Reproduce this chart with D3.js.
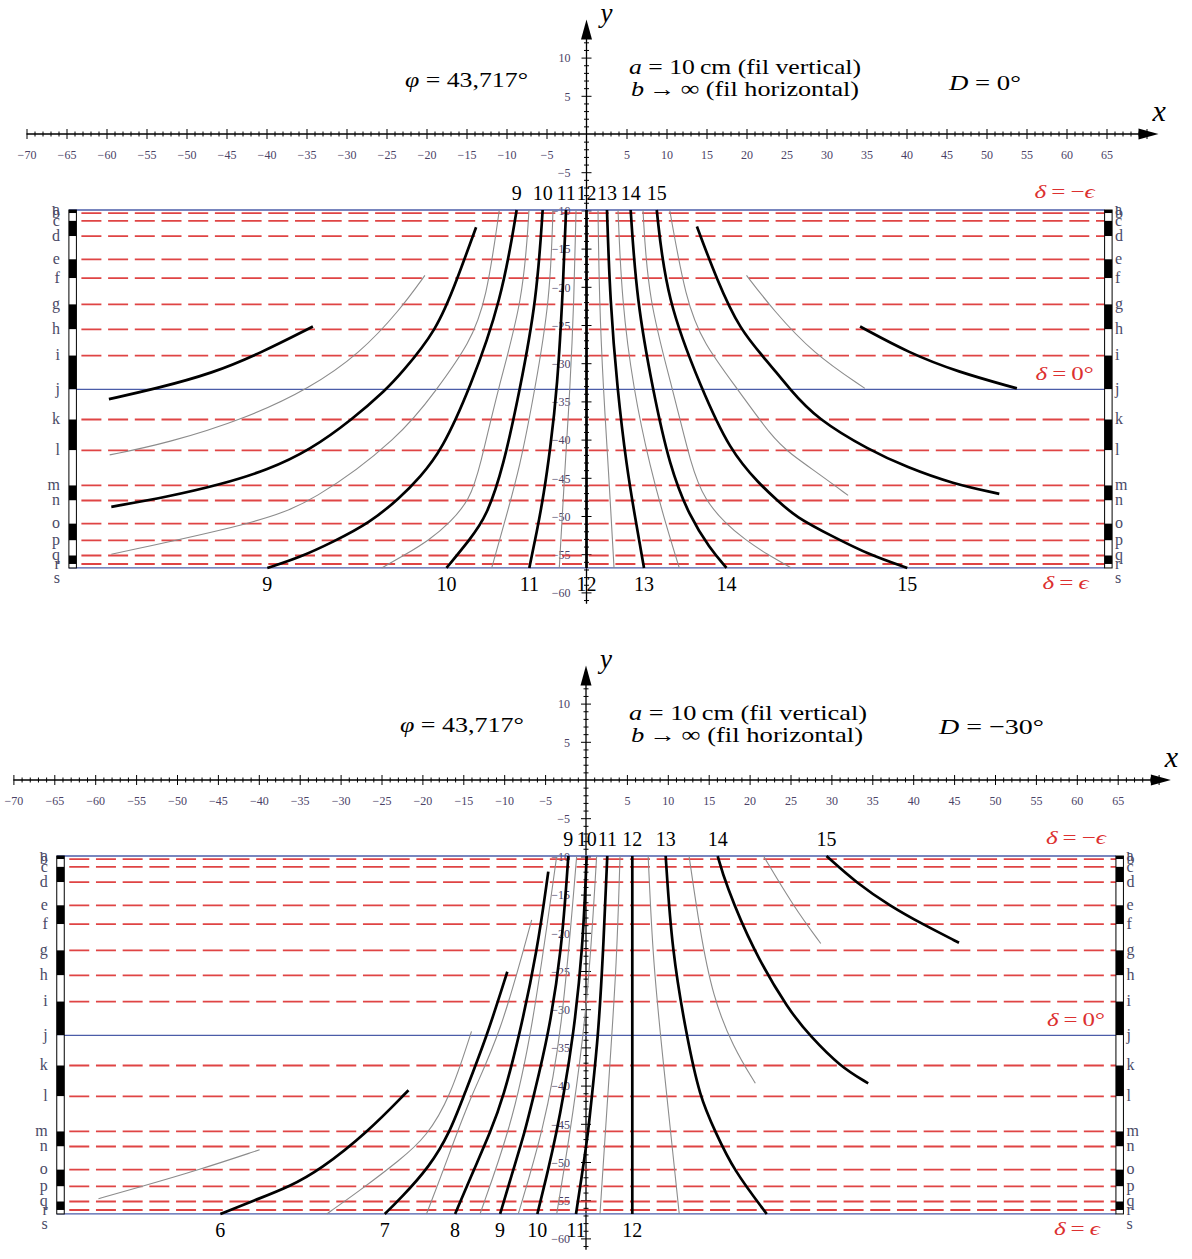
<!DOCTYPE html>
<html>
<head>
<meta charset="utf-8">
<title>cadran bifilaire</title>
<script src="https://cdn.jsdelivr.net/npm/d3@7"></script>
<style>
body { margin: 0; background: #fff; }
svg text { font-family: "Liberation Serif", "DejaVu Serif", serif; }
</style>
</head>
<body>
<svg id="chart" width="1192" height="1259"></svg>
<script>
// declination lines a..s (y in cm), same for both dials
var letters = ["a","b","c","d","e","f","g","h","i","j","k","l","m","n","o","p","q","r","s"];
var declY = [-9.95,-10.36,-11.37,-13.37,-16.4,-18.87,-22.3,-25.57,-29.0,-33.42,-37.37,-41.4,-46.0,-47.97,-51.0,-53.2,-55.17,-56.28,-56.8];
var blueLines = ["a","j","s"];
var boxX = [-64.7, 65.7];

// axis ticks
var xTicks = d3.range(-70, 71).filter(function(d) { return d !== 0; });
var yTicks = d3.range(13, -62, -1).filter(function(d) { return d !== 0; });

// D = 0 : hour lines (x, y in cm)
var fullD0 = [
  {h: 7,  pts: [[-34.2,-25.2],[-40.8,-28.7],[-46.7,-31.3],[-53.7,-33.3],[-59.7,-34.7]]},
  {h: 8,  pts: [[-13.8,-12.2],[-16.2,-19.1],[-18.7,-25.7],[-23.3,-31.5],[-25.0,-33.4],[-29.2,-37.3],[-34.6,-41.4],[-39.9,-44.0],[-45.8,-45.9],[-52.4,-47.5],[-59.4,-48.8]]},
  {h: 9,  pts: [[-8.73,-9.95],[-10.6,-21.7],[-14.6,-33.4],[-18.1,-41.4],[-20.8,-44.9],[-23.3,-47.6],[-27.1,-50.9],[-31.7,-53.4],[-35.8,-55.4],[-39.9,-56.8]]},
  {h: 10, pts: [[-5.48,-9.95],[-6.23,-21.7],[-8.31,-33.4],[-10.4,-43.6],[-12.5,-50.1],[-14.6,-53.1],[-17.5,-56.8]]},
  {h: 11, pts: [[-2.56,-9.95],[-2.9,-19.5],[-3.65,-33.4],[-4.56,-41.4],[-5.31,-47.0],[-6.23,-52.2],[-7.15,-56.8]]},
  {h: 12, pts: [[0,-9.95],[0,-56.8]]},
  {h: 13, pts: [[2.56,-9.95],[2.94,-21.7],[3.85,-33.4],[5.02,-43.6],[6.06,-50.1],[7.19,-56.8]]},
  {h: 14, pts: [[5.52,-9.95],[6.27,-21.7],[8.27,-33.4],[10.4,-43.6],[12.9,-50.1],[15.4,-54.2],[17.5,-56.8]]},
  {h: 15, pts: [[8.78,-9.95],[10.0,-21.7],[14.4,-33.4],[17.9,-41.4],[21.7,-45.9],[23.8,-47.9],[26.1,-50.1],[30.8,-52.7],[35.4,-55.1],[40.1,-56.8]]},
  {h: 16, pts: [[13.8,-12.1],[16.3,-19.1],[19.2,-25.7],[22.5,-29.6],[25.4,-33.4],[28.8,-37.3],[35.4,-41.4],[40.0,-43.6],[45.8,-45.8],[51.6,-47.1]]},
  {h: 17, pts: [[34.2,-25.2],[40.4,-28.7],[46.3,-31.1],[53.8,-33.3]]}
];
var halfD0 = [
  [[-20.2,-18.5],[-23.3,-23.0],[-28.3,-28.7],[-34.6,-33.3],[-42.5,-37.2],[-52.5,-40.5],[-59.6,-42.0]],
  [[-10.9,-9.95],[-12.5,-21.7],[-14.6,-27.4],[-18.7,-33.4],[-23.3,-39.7],[-34.2,-48.2],[-41.2,-50.9],[-59.4,-55.0]],
  [[-7.19,-9.95],[-7.9,-21.7],[-11.1,-33.4],[-13.3,-43.6],[-14.6,-47.9],[-17.1,-50.9],[-19.6,-53.1],[-22.7,-55.1],[-25.6,-56.8]],
  [[-4.19,-9.95],[-4.56,-21.7],[-6.44,-33.4],[-8.31,-43.6],[-10.4,-51.4],[-11.85,-56.8]],
  [[-1.31,-9.95],[-1.56,-21.7],[-2.06,-33.4],[-2.69,-43.6],[-3.4,-56.8]],
  [[1.44,-9.95],[1.6,-21.7],[2.1,-33.4],[2.73,-43.6],[3.44,-56.8]],
  [[3.94,-9.95],[4.4,-21.7],[5.85,-33.4],[7.94,-43.6],[10.0,-51.4],[11.6,-56.8]],
  [[7.06,-9.95],[7.7,-21.7],[10.8,-33.4],[13.1,-43.6],[14.8,-47.9],[17.3,-50.9],[19.8,-53.1],[22.7,-55.1],[25.6,-56.8]],
  [[10.4,-9.95],[12.4,-21.7],[14.6,-27.4],[18.9,-33.4],[23.2,-39.7],[25.4,-41.8],[29.2,-44.6],[32.7,-47.3]],
  [[20.0,-18.5],[23.3,-23.0],[28.3,-28.7],[34.8,-33.3]]
];
var topHoursD0 = [9, 10, 11, 12, 13, 14, 15];
var bottomHoursD0 = [9, 10, 11, 12, 13, 14, 15];

// D = -30 : hour lines
var fullD30 = [
  {h: 6,  pts: [[-21.7,-40.6],[-26.8,-46.2],[-32.5,-51.0],[-36.2,-53.2],[-40.5,-55.0],[-44.7,-56.8]]},
  {h: 7,  pts: [[-9.62,-25.1],[-12.1,-33.5],[-15.0,-41.5],[-16.6,-46.0],[-19.1,-50.6],[-22.7,-54.8],[-24.6,-56.8]]},
  {h: 8,  pts: [[-4.61,-12.0],[-5.95,-22.3],[-8.15,-33.5],[-10.1,-41.5],[-11.65,-46.0],[-13.7,-51.0],[-16.0,-56.8]]},
  {h: 9,  pts: [[-2.16,-9.95],[-2.97,-22.3],[-4.61,-33.5],[-6.44,-41.5],[-7.46,-46.0],[-8.89,-51.0],[-10.5,-56.8]]},
  {h: 10, pts: [[0.08,-9.95],[-0.4,-22.3],[-1.55,-33.5],[-2.78,-41.5],[-3.58,-46.0],[-4.61,-51.0],[-5.95,-56.8]]},
  {h: 11, pts: [[2.6,-9.95],[2.11,-22.3],[1.5,-33.5],[0.7,-41.5],[0.28,-46.0],[-0.4,-51.0],[-1.22,-56.8]]},
  {h: 12, pts: [[5.66,-9.95],[5.66,-56.8]]},
  {h: 13, pts: [[9.74,-9.95],[10.5,-22.3],[12.3,-33.5],[13.9,-41.5],[15.8,-46.0],[18.0,-51.0],[22.1,-56.8]]},
  {h: 14, pts: [[16.1,-9.95],[17.0,-13.4],[20.4,-22.3],[24.9,-30.3],[27.4,-33.5],[31.05,-37.5],[34.5,-39.7]]},
  {h: 15, pts: [[29.4,-9.95],[33.1,-13.5],[37.2,-16.5],[41.2,-18.9],[45.6,-21.3]]}
];
var halfD30 = [
  [[-39.9,-48.4],[-47.2,-51.0],[-55.3,-53.5],[-59.6,-54.8]],
  [[-14.0,-32.9],[-16.6,-41.5],[-19.5,-46.7],[-22.7,-49.7],[-27.6,-53.7],[-31.7,-56.8]],
  [[-6.64,-18.3],[-10.5,-33.5],[-14.2,-41.5],[-17.4,-51.0],[-19.5,-56.8]],
  [[-3.58,-9.95],[-6.64,-33.5],[-9.29,-45.8],[-12.96,-56.8]],
  [[-1.14,-9.95],[-2.97,-33.5],[-5.22,-45.8],[-8.28,-56.8]],
  [[1.3,-9.95],[0.28,-28.4],[-1.55,-43.6],[-3.58,-56.8]],
  [[4.16,-9.95],[3.75,-24.0],[2.93,-37.0],[1.71,-56.8]],
  [[7.6,-9.95],[8.2,-24.0],[9.45,-37.0],[11.4,-56.8]],
  [[12.6,-9.95],[13.9,-19.6],[15.5,-28.4],[18.0,-35.0],[20.7,-39.7]],
  [[21.7,-9.95],[25.4,-16.6],[28.7,-21.4]]
];
var topHoursD30 = [9, 10, 11, 12, 13, 14, 15];
var bottomHoursD30 = [6, 7, 8, 9, 10, 11, 12];

var svg = d3.select("#chart");
var red = "#dc3030", blue = "#4b5ca8", labCol = "#4a4266";

function fmt(d) { return d < 0 ? "\u2212" + Math.abs(d) : String(d); }

function mathText(g, x, yb, parts, size, width, color) {
  var t = g.append("text").attr("x", x).attr("y", yb)
      .attr("font-size", size).attr("fill", color || "#000");
  parts.forEach(function(p) {
    t.append("tspan").attr("font-style", p[1] ? "italic" : "normal").text(p[0]);
  });
  if (width) t.attr("textLength", width).attr("lengthAdjust", "spacingAndGlyphs");
  return t;
}

function drawPanel(p) {
  var x = d3.scaleLinear().domain([0, 10]).range([p.x0, p.x0 + 10 * p.kx]);
  var y = d3.scaleLinear().domain([0, -10]).range([p.y0, p.y0 + 10 * p.ky]);
  var g = svg.append("g");
  var sw = 7.5;
  var xL = x(boxX[0]), xR = x(boxX[1]);
  var yTop = y(declY[0]), yBot = y(declY[declY.length - 1]), yJ = y(declY[9]);

  // axes (drawn first, the dial goes over them)
  var xAxis = g.append("g").attr("transform", "translate(0," + p.y0 + ")")
      .call(d3.axisBottom(x).tickValues(xTicks).tickSizeOuter(0));
  xAxis.select(".domain").remove();
  xAxis.selectAll(".tick line")
      .attr("y1", function(d) { return d % 5 === 0 ? -5 : -2.5; })
      .attr("y2", function(d) { return d % 5 === 0 ? 5 : 2.5; })
      .attr("stroke", "#000").attr("stroke-width", 1);
  xAxis.selectAll(".tick text")
      .text(function(d) { return (d % 5 === 0 && d < 70) ? fmt(d) : ""; })
      .attr("y", 25).attr("dy", 0)
      .attr("font-family", "Liberation Serif, serif").attr("font-size", 12).attr("fill", labCol);
  g.append("line").attr("x1", x(-70)).attr("x2", x(71.5) - 10)
      .attr("y1", p.y0).attr("y2", p.y0).attr("stroke", "#000").attr("stroke-width", 1.3);
  var tx = x(71.5);
  g.append("path").attr("d", "M" + tx + "," + p.y0 + "L" + (tx - 20) + "," + (p.y0 - 5.5) + "L" + (tx - 20) + "," + (p.y0 + 5.5) + "Z")
      .attr("fill", "#000");
  mathText(g, tx - 6, p.y0 - 13, [["x", 1]], 30);

  var yAxis = g.append("g").attr("transform", "translate(" + p.x0 + ",0)")
      .call(d3.axisLeft(y).tickValues(yTicks).tickSizeOuter(0));
  yAxis.select(".domain").remove();
  yAxis.selectAll(".tick line")
      .attr("x1", function(d) { return d % 5 === 0 ? -5 : -2.5; })
      .attr("x2", function(d) { return d % 5 === 0 ? 5 : 2.5; })
      .attr("stroke", "#000").attr("stroke-width", 1);
  yAxis.selectAll(".tick text")
      .text(function(d) { return (d % 5 === 0 && d >= -60) ? fmt(d) : ""; })
      .attr("x", -16).attr("dy", "0.35em")
      .attr("font-family", "Liberation Serif, serif").attr("font-size", 12).attr("fill", labCol);
  var ty = y(15);
  g.append("line").attr("x1", p.x0).attr("x2", p.x0)
      .attr("y1", y(-61.5)).attr("y2", ty + 10).attr("stroke", "#000").attr("stroke-width", 1.3);
  g.append("path").attr("d", "M" + p.x0 + "," + ty + "L" + (p.x0 - 5.5) + "," + (ty + 20) + "L" + (p.x0 + 5.5) + "," + (ty + 20) + "Z")
      .attr("fill", "#000");
  mathText(g, p.x0 + 14, ty + 3, [["y", 1]], 27);

  // parallels of declination
  var decl = letters.map(function(l, i) { return {l: l, v: declY[i]}; });
  g.selectAll("line.red").data(decl.filter(function(d) { return blueLines.indexOf(d.l) < 0; }))
    .join("line")
      .attr("x1", xL + sw).attr("x2", xR - sw)
      .attr("y1", function(d) { return y(d.v); }).attr("y2", function(d) { return y(d.v); })
      .attr("stroke", red).attr("stroke-opacity", 0.9).attr("stroke-width", 1.8)
      .attr("stroke-dasharray", "20,6.7").attr("stroke-dashoffset", 21.7);
  g.selectAll("line.blue").data(decl.filter(function(d) { return blueLines.indexOf(d.l) >= 0; }))
    .join("line")
      .attr("x1", xL).attr("x2", xR - sw)
      .attr("y1", function(d) { return y(d.v); }).attr("y2", function(d) { return y(d.v); })
      .attr("stroke", blue).attr("stroke-width", 1.3);

  // hour lines
  var line = d3.line().x(function(d) { return x(d[0]); }).y(function(d) { return y(d[1]); })
      .curve(d3.curveBasis);
  g.selectAll("path.half").data(p.half).join("path")
      .attr("d", line).attr("fill", "none").attr("stroke", "#8c8c8c").attr("stroke-width", 1.1);
  g.selectAll("path.full").data(p.full).join("path")
      .attr("d", function(d) { return line(d.pts); })
      .attr("fill", "none").attr("stroke", "#000").attr("stroke-width", 2.7);

  // hour numbers
  g.selectAll("text.htop").data(p.full.filter(function(d) { return p.topHours.indexOf(d.h) >= 0; }))
    .join("text")
      .attr("x", function(d) { return x(d.pts[0][0]); }).attr("y", yTop - 10)
      .attr("text-anchor", "middle").attr("font-size", 20).text(function(d) { return d.h; });
  g.selectAll("text.hbot").data(p.full.filter(function(d) { return p.bottomHours.indexOf(d.h) >= 0; }))
    .join("text")
      .attr("x", function(d) { return x(d.pts[d.pts.length - 1][0]); }).attr("y", yBot + 23)
      .attr("text-anchor", "middle").attr("font-size", 20).text(function(d) { return d.h; });

  // black / white scales
  var segs = d3.range(declY.length - 1);
  [xL, xR - sw].forEach(function(sx, k) {
    g.selectAll("rect.seg" + k).data(segs).join("rect")
        .attr("x", sx).attr("width", sw)
        .attr("y", function(i) { return y(declY[i]); })
        .attr("height", function(i) { return y(declY[i + 1]) - y(declY[i]); })
        .attr("fill", function(i) { return i % 2 === 0 ? "#000" : "#fff"; });
    g.append("rect").attr("x", sx).attr("y", yTop).attr("width", sw).attr("height", yBot - yTop)
        .attr("fill", "none").attr("stroke", "#000").attr("stroke-width", 1);
  });
  [[xL - 9, "end"], [xR + 3, "start"]].forEach(function(s) {
    g.selectAll(null).data(decl).join("text")
        .attr("x", s[0]).attr("text-anchor", s[1])
        .attr("y", function(d, i) { return y(d.v) + (i === decl.length - 1 ? 10 : 0); })
        .attr("dy", "0.3em").attr("font-size", 16).attr("fill", "#4a4a66")
        .text(function(d) { return d.l; });
  });

  // delta labels
  var dx = xR - sw - 10;
  mathText(g, dx - 60, yTop - 12, [["\u03b4", 1], ["\u2009=\u2009\u2212", 0], ["\u03f5", 1]], 19, 60, red);
  mathText(g, dx - 59, yJ - 9, [["\u03b4", 1], ["\u2009=\u20090\u00b0", 0]], 19, 58, red);
  mathText(g, dx - 52, yBot + 21, [["\u03b4", 1], ["\u2009=\u2009", 0], ["\u03f5", 1]], 19, 46, red);

  // captions
  mathText(g, p.phiX, p.phiY, [["\u03c6", 1], [" = 43,717\u00b0", 0]], 22, p.phiW);
  mathText(g, 629, p.aY, [["a", 1], [" = 10\u2009cm (fil vertical)", 0]], 22, p.aW);
  mathText(g, 631, p.aY + 22, [["b", 1], ["\u2009\u2192\u2009\u221e (fil horizontal)", 0]], 22, p.bW);
  mathText(g, p.dX, p.dY, [["D", 1], [" = " + p.D, 0]], 22, p.dW);
}

drawPanel({x0: 586.5, kx: 8.0, y0: 134, ky: 7.64, full: fullD0, half: halfD0,
  topHours: topHoursD0, bottomHours: bottomHoursD0, D: "0\u00b0",
  phiX: 405, phiY: 87, phiW: 123, aY: 74, aW: 232, bW: 228, dX: 949, dY: 90, dW: 72});
drawPanel({x0: 586, kx: 8.18, y0: 780, ky: 7.64, full: fullD30, half: halfD30,
  topHours: topHoursD30, bottomHours: bottomHoursD30, D: "\u221230\u00b0",
  phiX: 400, phiY: 732, phiW: 124, aY: 720, aW: 238, bW: 232, dX: 939, dY: 734, dW: 105});
</script>
</body>
</html>
